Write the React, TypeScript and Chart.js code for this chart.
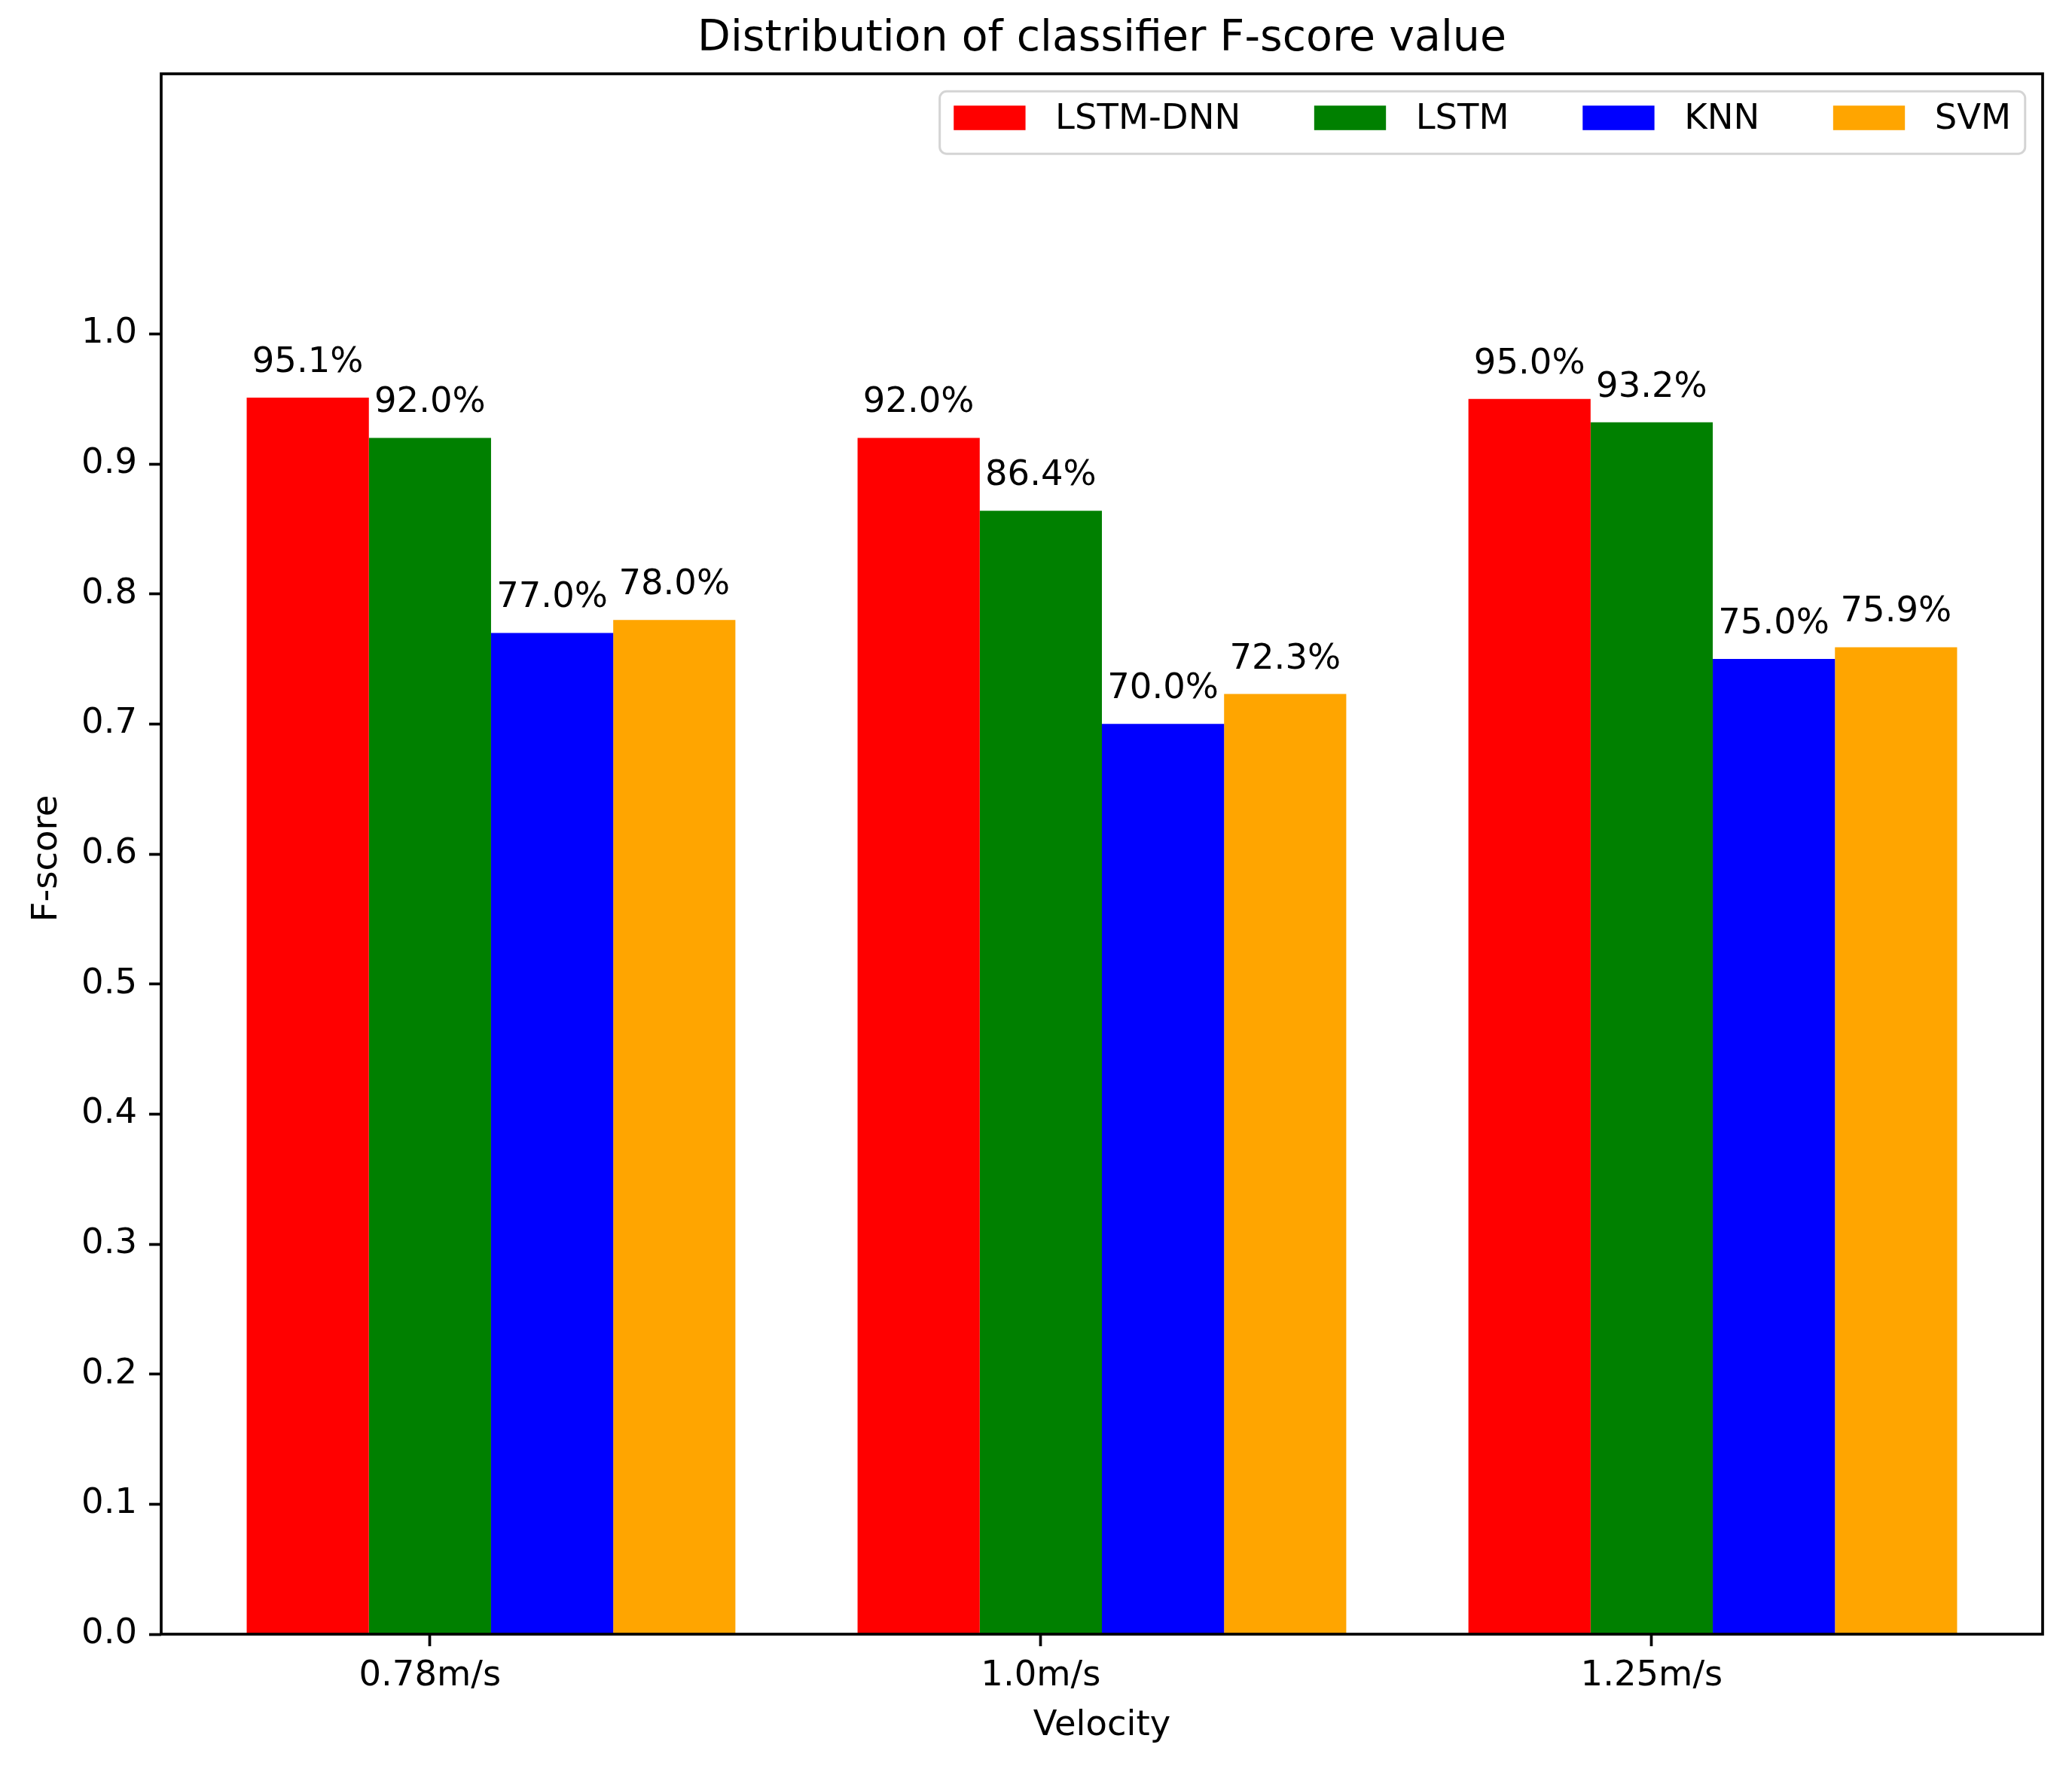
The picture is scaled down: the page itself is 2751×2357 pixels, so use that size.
import { useEffect, useRef } from 'react';
import { Chart, registerables } from 'chart.js';

Chart.register(...registerables);

// ---- data ----
const categories = ['0.78m/s', '1.0m/s', '1.25m/s'];
const seriesNames = ['LSTM-DNN', 'LSTM', 'KNN', 'SVM'];
const lstmDnnValues = [0.951, 0.92, 0.95];
const lstmValues = [0.92, 0.864, 0.932];
const knnValues = [0.77, 0.7, 0.75];
const svmValues = [0.78, 0.723, 0.759];
const seriesColors = ['#ff0000', '#008000', '#0000ff', '#ffa500'];
const yTickValues = [0, 0.1, 0.2, 0.3, 0.4, 0.5, 0.6, 0.7, 0.8, 0.9, 1.0];
const chartTitle = 'Distribution of classifier F-score value';
const xAxisTitle = 'Velocity';
const yAxisTitle = 'F-score';

// ---- layout ----
const W = 2751;
const H = 2357;
const PLOT_L = 214;
const PLOT_R = 2712;
const PLOT_T = 98;
const PLOT_B = 2170;
const FS = 46.5;
const TITLE_FS = 57;
const FONT = '"DejaVu Sans", sans-serif';
const TICK_LEN = 16;
const SPINE_W = 3.7;

const decorPlugin = {
  id: 'decor',
  afterDatasetsDraw(chart: any) {
    const ctx = chart.ctx;
    const area = chart.chartArea;
    ctx.save();
    // spines
    ctx.strokeStyle = '#000';
    ctx.lineWidth = SPINE_W;
    ctx.strokeRect(area.left, area.top, area.right - area.left, area.bottom - area.top);

    // value labels
    ctx.fillStyle = '#000';
    ctx.font = `${FS}px ${FONT}`;
    ctx.textAlign = 'center';
    ctx.textBaseline = 'alphabetic';
    chart.data.datasets.forEach((ds: any, di: number) => {
      const meta = chart.getDatasetMeta(di);
      meta.data.forEach((bar: any, i: number) => {
        const v = ds.data[i].y;
        ctx.fillText(`${(v * 100).toFixed(1)}%`, bar.x, bar.y - 34);
      });
    });

    // legend
    const pad = 0.4 * FS;
    const handleW = 2.05 * FS;
    const handleH = 0.7 * FS;
    const textPad = 0.85 * FS;
    const colSp = 2.1 * FS;
    const widths = chart.data.datasets.map((d: any) => ctx.measureText(d.label).width);
    let inner = 0;
    widths.forEach((w: number, i: number) => {
      inner += handleW + textPad + w + (i > 0 ? colSp : 0);
    });
    const boxW = inner + 2 * pad;
    const boxH = 83;
    const boxR = area.right - 0.5 * FS;
    const boxL = boxR - boxW;
    const boxT = area.top + 0.5 * FS;
    ctx.beginPath();
    (ctx as any).roundRect(boxL, boxT, boxW, boxH, 0.2 * FS);
    ctx.fillStyle = 'rgba(255,255,255,0.8)';
    ctx.fill();
    ctx.lineWidth = 3;
    ctx.strokeStyle = 'rgba(204,204,204,0.85)';
    ctx.stroke();
    let x = boxL + pad;
    const patchTop = boxT + 19;
    const baseline = boxT + 50;
    ctx.textAlign = 'left';
    chart.data.datasets.forEach((d: any, i: number) => {
      ctx.fillStyle = d.backgroundColor;
      ctx.fillRect(x, patchTop, handleW, handleH);
      ctx.fillStyle = '#000';
      ctx.fillText(d.label, x + handleW + textPad, baseline);
      x += handleW + textPad + widths[i] + colSp;
    });

    ctx.restore();
  },
  afterDraw(chart: any) {
    const ctx = chart.ctx;
    const area = chart.chartArea;
    const cx = (area.left + area.right) / 2;
    const cy = (area.top + area.bottom) / 2;
    ctx.save();
    ctx.fillStyle = '#000';
    ctx.textAlign = 'center';
    ctx.textBaseline = 'alphabetic';
    ctx.font = `${TITLE_FS}px ${FONT}`;
    ctx.fillText(chartTitle, cx, 67);
    ctx.font = `${FS}px ${FONT}`;
    ctx.fillText(xAxisTitle, cx, 2304);
    ctx.translate(75, cy + 6);
    ctx.rotate(-Math.PI / 2);
    ctx.fillText(yAxisTitle, 0, 0);
    ctx.restore();
  },
};

export default function App() {
  const canvasRef = useRef<HTMLCanvasElement | null>(null);

  useEffect(() => {
    const canvas = canvasRef.current;
    if (!canvas) return;
    const seriesValues = [lstmDnnValues, lstmValues, knnValues, svmValues];
    const chart = new Chart(canvas, {
      type: 'bar',
      data: {
        datasets: seriesNames.map((name, si) => ({
          label: name,
          data: categories.map((_, i) => ({ x: i, y: seriesValues[si][i] })),
          backgroundColor: seriesColors[si],
          borderWidth: 0,
          categoryPercentage: 0.8,
          barPercentage: 1.0,
        })),
      },
      options: {
        responsive: false,
        devicePixelRatio: 1,
        animation: false,
        events: [],
        layout: { padding: { left: 0, top: PLOT_T, right: W - PLOT_R, bottom: 0 } },
        plugins: {
          legend: { display: false },
          title: { display: false },
          tooltip: { enabled: false },
        },
        scales: {
          x: {
            type: 'linear',
            min: -0.54,
            max: 2.54,
            offset: false,
            afterBuildTicks: (axis: any) => {
              axis.ticks = categories.map((_, i) => ({ value: i - 0.1 }));
            },
            afterFit: (axis: any) => {
              axis.height = H - PLOT_B;
            },
            grid: {
              offset: false,
              drawOnChartArea: false,
              drawTicks: true,
              tickLength: TICK_LEN,
              tickWidth: SPINE_W,
              tickColor: '#000',
            },
            border: { display: false },
            ticks: {
              autoSkip: false,
              maxRotation: 0,
              padding: 12,
              color: '#000',
              font: { family: FONT, size: FS },
              callback: (_v: any, i: number) => categories[i],
            },
          },
          y: {
            type: 'linear',
            min: 0,
            max: 1.2,
            afterBuildTicks: (axis: any) => {
              axis.ticks = yTickValues.map((v) => ({ value: v }));
            },
            afterFit: (axis: any) => {
              axis.width = PLOT_L;
            },
            grid: {
              drawOnChartArea: false,
              drawTicks: true,
              tickLength: TICK_LEN,
              tickWidth: SPINE_W,
              tickColor: '#000',
            },
            border: { display: false },
            ticks: {
              padding: 16,
              color: '#000',
              font: { family: FONT, size: FS },
              callback: (v: any) => Number(v).toFixed(1),
            },
          },
        },
      },
      plugins: [decorPlugin],
    } as any);
    return () => chart.destroy();
  }, []);

  return (
    <div style={{ position: 'absolute', left: 0, top: 0, width: W, height: H, background: '#fff' }}>
      <canvas ref={canvasRef} width={W} height={H} style={{ display: 'block' }} />
    </div>
  );
}
